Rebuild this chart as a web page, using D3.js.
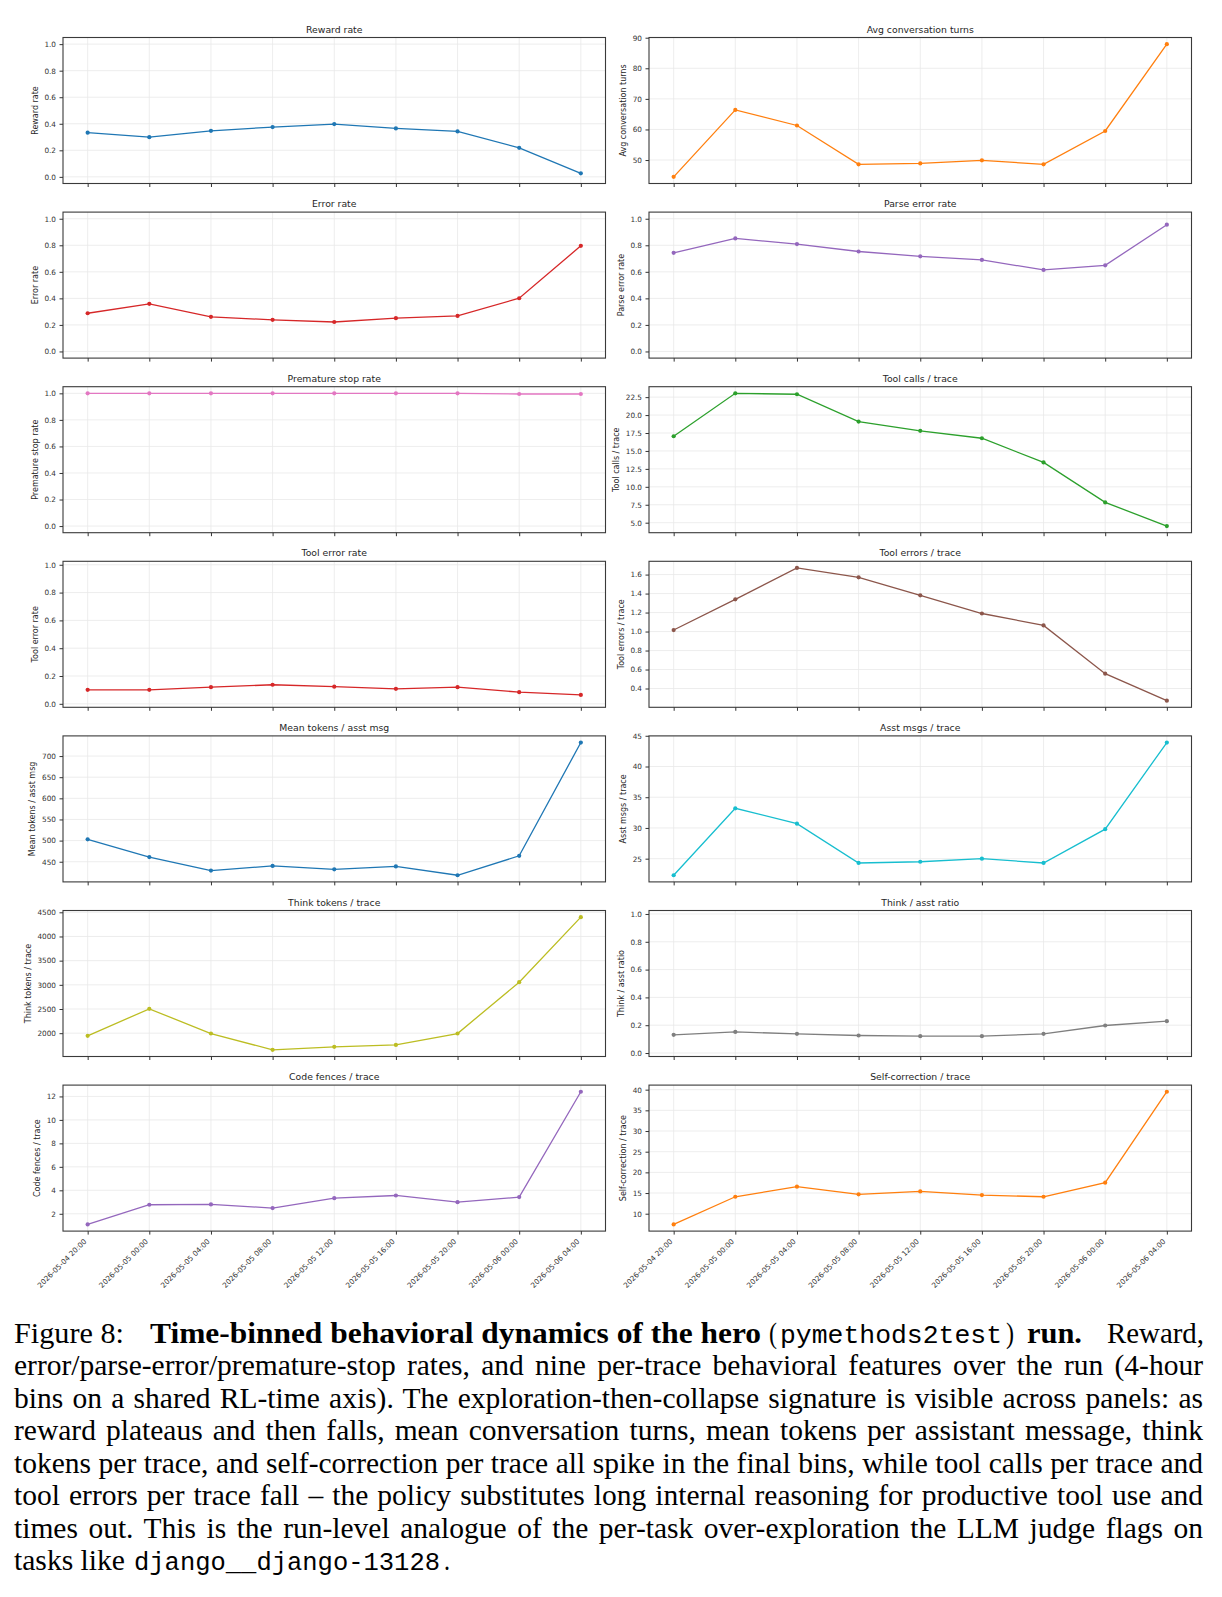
<!DOCTYPE html>
<html>
<head>
<meta charset="utf-8">
<script src="https://cdn.jsdelivr.net/npm/d3@7"></script>
<style>
  html, body { margin: 0; padding: 0; background: #fff; }
</style>
</head>
<body>
<div id="chart"></div>
<script>
// Time bins (x axis, shared by all panels)
const binLabels = [
    "2026-05-04 20:00", "2026-05-05 00:00", "2026-05-05 04:00",
    "2026-05-05 08:00", "2026-05-05 12:00", "2026-05-05 16:00",
    "2026-05-05 20:00", "2026-05-06 00:00", "2026-05-06 04:00"
];

// Series values
const rewardRate        = [0.333, 0.299, 0.347, 0.375, 0.398, 0.365, 0.342, 0.219, 0.027];
const avgTurns          = [44.5, 66.4, 61.3, 48.6, 48.9, 49.9, 48.6, 59.5, 87.9];
const errorRate         = [0.288, 0.359, 0.261, 0.238, 0.222, 0.251, 0.268, 0.401, 0.796];
const parseErrorRate    = [0.743, 0.852, 0.809, 0.753, 0.717, 0.690, 0.614, 0.649, 0.955];
const prematureStopRate = [1.0, 1.0, 1.0, 1.0, 1.0, 1.0, 1.0, 0.995, 0.995];
const toolCalls         = [17.05, 23.03, 22.9, 19.1, 17.8, 16.77, 13.4, 7.83, 4.53];
const toolErrorRate     = [0.101, 0.101, 0.120, 0.137, 0.123, 0.108, 0.120, 0.084, 0.064];
const toolErrors        = [1.016, 1.339, 1.670, 1.571, 1.382, 1.190, 1.065, 0.556, 0.272];
const meanTokens        = [503, 461, 429, 440, 432, 439, 418, 464, 732];
const asstMsgs          = [22.3, 33.2, 30.7, 24.3, 24.5, 25.0, 24.3, 29.8, 43.9];
const thinkTokens       = [1945, 2503, 1993, 1655, 1717, 1758, 1993, 3055, 4400];
const thinkRatio        = [0.131, 0.152, 0.138, 0.126, 0.121, 0.121, 0.138, 0.198, 0.229];
const codeFences        = [1.09, 2.77, 2.80, 2.49, 3.33, 3.56, 2.99, 3.42, 12.4];
const selfCorrection    = [7.4, 14.1, 16.55, 14.7, 15.4, 14.5, 14.1, 17.5, 39.5];

// Y tick labels
const rateTicks        = [0, 0.2, 0.4, 0.6, 0.8, 1.0];
const turnsTicks       = [50, 60, 70, 80, 90];
const toolCallsTicks   = [5, 7.5, 10, 12.5, 15, 17.5, 20, 22.5];
const toolErrorsTicks  = [0.4, 0.6, 0.8, 1.0, 1.2, 1.4, 1.6];
const meanTokensTicks  = [450, 500, 550, 600, 650, 700];
const asstMsgsTicks    = [25, 30, 35, 40, 45];
const thinkTokensTicks = [2000, 2500, 3000, 3500, 4000, 4500];
const codeFencesTicks  = [2, 4, 6, 8, 10, 12];
const selfCorrTicks    = [10, 15, 20, 25, 30, 35, 40];

// Panel table, left column then right column, row by row
const panels = [
    {title: "Reward rate", values: rewardRate, color: "#1f77b4", ticks: rateTicks, fmt: ".1f", ylim: [-0.05, 1.05]},
    {title: "Avg conversation turns", values: avgTurns, color: "#ff7f0e", ticks: turnsTicks, fmt: "d"},
    {title: "Error rate", values: errorRate, color: "#d62728", ticks: rateTicks, fmt: ".1f", ylim: [-0.05, 1.05]},
    {title: "Parse error rate", values: parseErrorRate, color: "#9467bd", ticks: rateTicks, fmt: ".1f", ylim: [-0.05, 1.05]},
    {title: "Premature stop rate", values: prematureStopRate, color: "#e377c2", ticks: rateTicks, fmt: ".1f", ylim: [-0.05, 1.05]},
    {title: "Tool calls / trace", values: toolCalls, color: "#2ca02c", ticks: toolCallsTicks, fmt: ".1f"},
    {title: "Tool error rate", values: toolErrorRate, color: "#d62728", ticks: rateTicks, fmt: ".1f", ylim: [-0.025, 1.025]},
    {title: "Tool errors / trace", values: toolErrors, color: "#8c564b", ticks: toolErrorsTicks, fmt: ".1f"},
    {title: "Mean tokens / asst msg", values: meanTokens, color: "#1f77b4", ticks: meanTokensTicks, fmt: "d"},
    {title: "Asst msgs / trace", values: asstMsgs, color: "#17becf", ticks: asstMsgsTicks, fmt: "d"},
    {title: "Think tokens / trace", values: thinkTokens, color: "#bcbd22", ticks: thinkTokensTicks, fmt: "d"},
    {title: "Think / asst ratio", values: thinkRatio, color: "#7f7f7f", ticks: rateTicks, fmt: ".1f", ylim: [-0.025, 1.025]},
    {title: "Code fences / trace", values: codeFences, color: "#9467bd", ticks: codeFencesTicks, fmt: "d"},
    {title: "Self-correction / trace", values: selfCorrection, color: "#ff7f0e", ticks: selfCorrTicks, fmt: "d"}
];

// Caption lines (line 1 and the last one are mixed-font)
const captionLines = [
    "error/parse-error/premature-stop rates, and nine per-trace behavioral features over the run (4-hour",
    "bins on a shared RL-time axis). The exploration-then-collapse signature is visible across panels: as",
    "reward plateaus and then falls, mean conversation turns, mean tokens per assistant message, think",
    "tokens per trace, and self-correction per trace all spike in the final bins, while tool calls per trace and",
    "tool errors per trace fall \u2013 the policy substitutes long internal reasoning for productive tool use and",
    "times out. This is the run-level analogue of the per-task over-exploration the LLM judge flags on"
];

const W = 1222, H = 1597;
const layout = {left: [63, 649], width: 542.5, top: 37.5, step: 174.6, height: 146};
const sansFont = "'DejaVu Sans', sans-serif";
const serifFont = "'Liberation Serif', 'Times New Roman', serif";
const monoFont = "'Liberation Mono', 'DejaVu Sans Mono', monospace";

const svg = d3.select("#chart").append("svg")
    .attr("width", W).attr("height", H);
svg.append("rect").attr("width", W).attr("height", H).attr("fill", "#fff");

const nRows = panels.length / 2;
panels.forEach((p, i) => drawPanel(p, i % 2, Math.floor(i / 2), Math.floor(i / 2) === nRows - 1));
drawCaption();

/**
 * Draws one small line chart in the grid.
 */
function drawPanel(p, col, row, isBottom) {
    const w = layout.width, h = layout.height;
    const g = svg.append("g")
        .attr("transform", `translate(${layout.left[col]},${layout.top + row * layout.step})`);

    const x = d3.scalePoint().domain(binLabels).range([0, w]).padding(0.4);

    // matplotlib-like 5% margins unless the limits are fixed
    let yDomain = p.ylim;
    if (!yDomain) {
        const [mn, mx] = d3.extent(p.values);
        const pad = (mx - mn) * 0.05;
        yDomain = [mn - pad, mx + pad];
    }
    const y = d3.scaleLinear().domain(yDomain).range([h, 0]);

    // grid
    const grid = g.append("g").attr("stroke", "#e8e8e8").attr("stroke-width", 0.8);
    grid.selectAll(".gx").data(binLabels).join("line")
        .attr("x1", d => x(d)).attr("x2", d => x(d)).attr("y1", 0).attr("y2", h);
    grid.selectAll(".gy").data(p.ticks).join("line")
        .attr("x1", 0).attr("x2", w).attr("y1", d => y(d)).attr("y2", d => y(d));

    // series line and markers
    const line = d3.line()
        .x((d, i) => x(binLabels[i]))
        .y(d => y(d));
    g.append("path")
        .datum(p.values)
        .attr("fill", "none")
        .attr("stroke", p.color)
        .attr("stroke-width", 1.3)
        .attr("d", line);
    g.selectAll(".dot").data(p.values).join("circle")
        .attr("cx", (d, i) => x(binLabels[i]))
        .attr("cy", d => y(d))
        .attr("r", 2.1)
        .attr("fill", p.color);

    // frame
    g.append("rect")
        .attr("width", w).attr("height", h)
        .attr("fill", "none").attr("stroke", "#3a3a3a").attr("stroke-width", 1.1);

    // y axis
    const yAxis = g.append("g")
        .call(d3.axisLeft(y).tickValues(p.ticks).tickFormat(d3.format(p.fmt)).tickSize(3.5).tickPadding(3.5));
    yAxis.select(".domain").remove();
    yAxis.attr("font-family", sansFont).attr("font-size", 7.3).attr("color", "#333");
    yAxis.selectAll("text").attr("fill", "#333");

    // x axis, labels only on the bottom row
    const xAxis = g.append("g")
        .attr("transform", `translate(0,${h})`)
        .call(d3.axisBottom(x).tickSize(3.5).tickFormat(d => isBottom ? d : ""));
    xAxis.select(".domain").remove();
    xAxis.attr("font-family", sansFont).attr("font-size", 7.3).attr("color", "#333");
    if (isBottom) {
        xAxis.selectAll("text")
            .attr("y", 0).attr("dy", null)
            .attr("fill", "#333")
            .style("text-anchor", "end")
            .attr("transform", "translate(-1.2,10.8) rotate(-45)");
    }

    // y label sits left of the widest tick label
    const maxW = d3.max(yAxis.selectAll("text").nodes(), n => n.getBBox().width);
    const labelX = -7 - maxW - 6.5;
    g.append("text")
        .attr("transform", `translate(${labelX},${h / 2}) rotate(-90)`)
        .attr("text-anchor", "middle")
        .attr("font-family", sansFont)
        .attr("font-size", 8)
        .attr("fill", "#262626")
        .text(p.title);

    // title
    g.append("text")
        .attr("x", w / 2).attr("y", -5)
        .attr("text-anchor", "middle")
        .attr("font-family", sansFont)
        .attr("font-size", 9.3)
        .attr("fill", "#262626")
        .text(p.title);
}

/**
 * Caption under the figure, justified like the LaTeX source.
 */
function drawCaption() {
    const fs = 29.5;
    const left = 14, right = 1203;
    const base = 1343, lead = 32.45;
    const cap = svg.append("g").attr("fill", "#000").attr("font-size", fs);

    // line 1: mixed fonts, segments placed where they sit in the figure
    const seg1 = [
        {t: "Figure 8:", x: 14, len: 110, font: serifFont, bold: false},
        {t: "Time-binned behavioral dynamics of the hero", x: 150, len: 611, font: serifFont, bold: true},
        {t: "(", x: 769, len: 8, font: serifFont, bold: false},
        {t: "pymethods2test", x: 780, len: 222, font: monoFont, bold: false, size: 26.3},
        {t: ")", x: 1006, len: 8, font: serifFont, bold: false},
        {t: "run.", x: 1027, len: 55, font: serifFont, bold: true},
        {t: "Reward,", x: 1107, len: 97, font: serifFont, bold: false}
    ];
    drawSegments(cap, seg1, base);

    // justified body lines
    captionLines.forEach((txt, i) => {
        const t = cap.append("text")
            .attr("x", left).attr("y", base + lead * (i + 1))
            .attr("font-family", serifFont)
            .text(txt);
        const natural = t.node().getComputedTextLength();
        const spaces = (txt.match(/ /g) || []).length;
        t.attr("word-spacing", (right - left - natural) / spaces);
    });

    // last line
    const seg8 = [
        {t: "tasks like", x: 14, len: 111, font: serifFont, bold: false},
        {t: "django__django-13128", x: 134, len: 306, font: monoFont, bold: false, size: 25.4},
        {t: ".", x: 444, len: 6, font: serifFont, bold: false}
    ];
    drawSegments(cap, seg8, base + lead * 7);
}

function drawSegments(parent, segs, yPos) {
    segs.forEach(s => {
        parent.append("text")
            .attr("x", s.x).attr("y", yPos)
            .attr("font-family", s.font)
            .attr("font-size", s.size || null)
            .attr("font-weight", s.bold ? "bold" : "normal")
            .attr("textLength", s.len)
            .attr("lengthAdjust", "spacingAndGlyphs")
            .text(s.t);
    });
}
</script>
</body>
</html>
